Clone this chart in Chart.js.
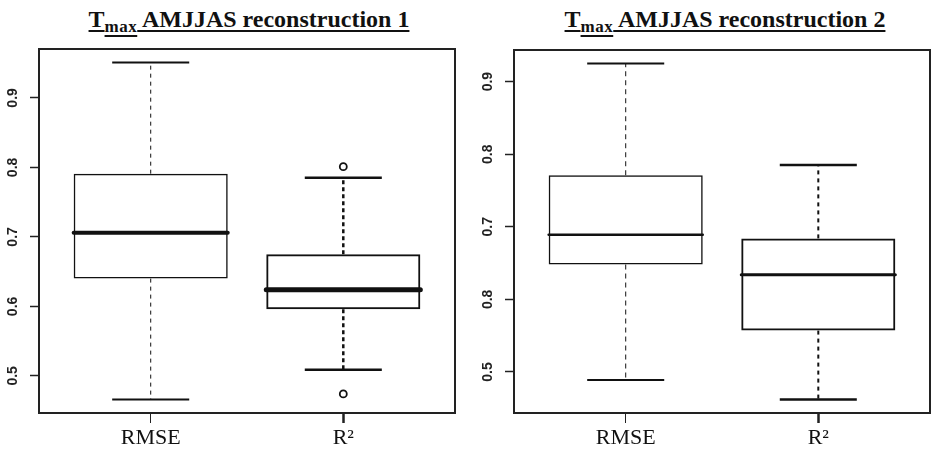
<!DOCTYPE html>
<html><head><meta charset="utf-8">
<script src="https://cdn.jsdelivr.net/npm/chart.js@4.4.0/dist/chart.umd.min.js"></script>
<style>
html,body{margin:0;padding:0;background:#fff;}
#wrap{position:relative;width:932px;height:453px;overflow:hidden;background:#fff;}
.panel{position:absolute;top:0;width:466px;height:453px;}
.panel canvas{position:absolute;left:0;top:0;}
.title{position:absolute;top:6px;width:600px;text-align:center;font-family:"Liberation Serif","Times New Roman",serif;font-weight:bold;font-size:24px;line-height:26px;color:#111;white-space:nowrap;}
.u{text-decoration:underline;text-decoration-thickness:2px;text-underline-offset:3px;}
.title sub{font-size:17px;vertical-align:-5px;line-height:0;letter-spacing:0.5px;}
</style></head>
<body>
<div id="wrap">
  <div class="title" style="left:-51px;"><span class="u">T</span><sub class="u">max</sub><span class="u"> AMJJAS reconstruction 1</span></div>
  <div class="title" style="left:425px;"><span class="u">T</span><sub class="u">max</sub><span class="u"> AMJJAS reconstruction 2</span></div>
  <div class="panel" style="left:0px;"><canvas id="c1" width="466" height="453"></canvas></div>
  <div class="panel" style="left:466px;"><canvas id="c2" width="466" height="453"></canvas></div>
</div>
<script>
// ---- data ----
const categories = ['RMSE', 'R²'];
const yTickValues = [0.5, 0.6, 0.7, 0.8, 0.9];
const yTickLabels1 = ['0.5', '0.6', '0.7', '0.8', '0.9'];
const yTickLabels2 = ['0.5', '0.8', '0.7', '0.8', '0.9'];

const rec1Min    = [0.466, 0.509];
const rec1Q1     = [0.640, 0.596];
const rec1Median = [0.706, 0.624];
const rec1Q3     = [0.791, 0.675];
const rec1Max    = [0.951, 0.785];
const rec1OutlierCategory = ['R²', 'R²'];
const rec1OutlierValue    = [0.801, 0.474];

const rec2Min    = [0.489, 0.462];
const rec2Q1     = [0.648, 0.557];
const rec2Median = [0.689, 0.634];
const rec2Q3     = [0.771, 0.684];
const rec2Max    = [0.925, 0.785];
const rec2OutlierCategory = [];
const rec2OutlierValue    = [];

// ---- styles ----
const styles1 = [
  {box: 1.5, median: 4, whisker: 1, cap: 2, dash: [4, 4]},
  {box: 2, median: 5, whisker: 2.5, cap: 2.5, dash: [4, 3]}
];
const styles2 = [
  {box: 1.5, median: 2.5, whisker: 1, cap: 2, dash: [5, 4]},
  {box: 2, median: 3, whisker: 2, cap: 2.5, dash: [4, 4]}
];
const xTickWidths1 = [1, 2.5];
const xTickWidths2 = [1, 2.5];
const INK = '#111';

function makePanel(id, st, tickLabels, styles, xTickWidths, yAxisWidth, padRight, padTop, yFontSize) {
  const all = st.min.concat(st.max, st.outVal);
  const lo = Math.min(...all), hi = Math.max(...all);
  const ext = 0.04 * (hi - lo);
  const boxHalf = 0.4, capHalf = 0.2;

  const partsPlugin = {
    id: 'boxparts',
    afterDatasetsDraw(chart) {
      const {ctx, scales: {x, y}} = chart;
      ctx.save();
      ctx.strokeStyle = INK;
      const seg = (x1, y1, x2, y2) => { ctx.beginPath(); ctx.moveTo(x1, y1); ctx.lineTo(x2, y2); ctx.stroke(); };
      categories.forEach((c, i) => {
        const v = i + 1, s = styles[i];
        const xc = x.getPixelForValue(v);
        ctx.lineCap = 'butt';
        ctx.setLineDash(s.dash);
        ctx.lineWidth = s.whisker;
        seg(xc, y.getPixelForValue(st.q3[i]), xc, y.getPixelForValue(st.max[i]));
        seg(xc, y.getPixelForValue(st.q1[i]), xc, y.getPixelForValue(st.min[i]));
        ctx.setLineDash([]);
        ctx.lineWidth = s.cap;
        const cl = x.getPixelForValue(v - capHalf), cr = x.getPixelForValue(v + capHalf);
        seg(cl, y.getPixelForValue(st.max[i]), cr, y.getPixelForValue(st.max[i]));
        seg(cl, y.getPixelForValue(st.min[i]), cr, y.getPixelForValue(st.min[i]));
        ctx.lineWidth = s.median;
        ctx.lineCap = 'round';
        const bl = x.getPixelForValue(v - boxHalf), br = x.getPixelForValue(v + boxHalf);
        seg(bl, y.getPixelForValue(st.median[i]), br, y.getPixelForValue(st.median[i]));
      });
      const a = chart.chartArea;
      ctx.lineCap = 'butt';
      ctx.lineWidth = 2;
      ctx.strokeStyle = '#222';
      ctx.strokeRect(a.left, a.top, a.right - a.left, a.bottom - a.top);
      ctx.restore();
    }
  };

  return new Chart(document.getElementById(id), {
    type: 'bar',
    data: {
      datasets: [
        {
          type: 'bar',
          data: categories.map((c, i) => ({x: i + 1, y: [st.q1[i], st.q3[i]]})),
          backgroundColor: 'rgba(255,255,255,0)',
          borderColor: INK,
          borderWidth: styles.map(s => s.box),
          borderSkipped: false,
          barPercentage: 0.8,
          categoryPercentage: 1
        },
        {
          type: 'scatter',
          data: st.outCat.map((c, k) => ({x: categories.indexOf(c) + 1, y: st.outVal[k]})),
          pointRadius: 3.5,
          pointBorderWidth: 1.8,
          pointBackgroundColor: '#fff',
          pointBorderColor: INK,
          showLine: false
        }
      ]
    },
    options: {
      responsive: false,
      animation: false,
      layout: {padding: {left: 0, right: padRight, top: padTop, bottom: 0}},
      plugins: {legend: {display: false}, tooltip: {enabled: false}, title: {display: false}},
      scales: {
        x: {
          type: 'linear', min: 0.42, max: 2.58, offset: false,
          afterBuildTicks: s => { s.ticks = categories.map((c, i) => ({value: i + 1})); },
          afterFit: s => { s.height = 40; },
          ticks: {
            autoSkip: false, maxRotation: 0, minRotation: 0, padding: 2, color: INK,
            font: {family: '"Liberation Serif", "Times New Roman", serif', size: 22},
            callback: (v, i) => categories[i]
          },
          grid: {offset: false, drawOnChartArea: false, drawTicks: true, tickLength: 10, tickColor: '#222',
                 tickWidth: ctx => xTickWidths[ctx.index]},
          border: {display: false}
        },
        y: {
          min: lo - ext, max: hi + ext,
          afterBuildTicks: s => { s.ticks = yTickValues.map(v => ({value: v})); },
          afterFit: s => { s.width = yAxisWidth; },
          ticks: {
            autoSkip: false, minRotation: 90, maxRotation: 90, crossAlign: 'center', padding: 7, color: '#222',
            font: {family: '"Liberation Sans", Arial, sans-serif', size: yFontSize, weight: 'bold'},
            callback: (v, i) => tickLabels[i]
          },
          grid: {drawOnChartArea: false, drawTicks: true, tickLength: 9, tickColor: '#222', tickWidth: 1.5},
          border: {display: false}
        }
      }
    },
    plugins: [partsPlugin]
  });
}

makePanel('c1', {min: rec1Min, q1: rec1Q1, median: rec1Median, q3: rec1Q3, max: rec1Max,
                 outCat: rec1OutlierCategory, outVal: rec1OutlierValue},
          yTickLabels1, styles1, xTickWidths1, 39, 11, 49, 14);
makePanel('c2', {min: rec2Min, q1: rec2Q1, median: rec2Median, q3: rec2Q3, max: rec2Max,
                 outCat: rec2OutlierCategory, outVal: rec2OutlierValue},
          yTickLabels2, styles2, xTickWidths2, 48, 2, 50, 14);
</script>
</body></html>
